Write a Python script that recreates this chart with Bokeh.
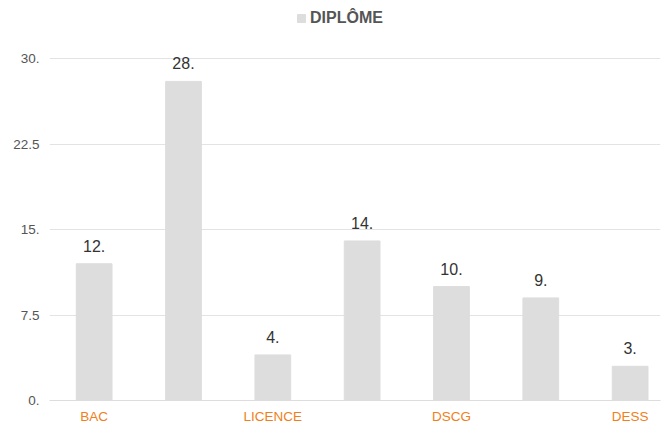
from bokeh.plotting import figure
from bokeh.models import ColumnDataSource, FixedTicker, Legend, LegendItem, Range1d, LabelSet
from bokeh.core.properties import value
from bokeh.embed import file_html
from bokeh.resources import INLINE

# data
categories = ["BAC", "", "LICENCE", "", "DSCG", "", "DESS"]
values = [12, 28, 4, 14, 10, 9, 3]
value_labels = ["12.", "28.", "4.", "14.", "10.", "9.", "3."]
y_ticks = [0, 7.5, 15, 22.5, 30]
y_tick_labels = ["0.", "7.5", "15.", "22.5", "30."]
series_name = "DIPLÔME"

xs = list(range(1, len(categories) + 1))
src = ColumnDataSource(dict(x=xs, top=values, lab=value_labels))

p = figure(width=661, height=426, output_backend="svg", toolbar_location=None,
           x_range=Range1d(0.5, 7.34), y_range=Range1d(0, 35.1),
           min_border_left=49, min_border_right=1, min_border_top=0, min_border_bottom=26)
p.outline_line_color = None
p.background_fill_color = "white"
p.border_fill_color = "white"

r = p.vbar(x="x", top="top", width=0.40, source=src, color="#dddddd")

labels = LabelSet(x="x", y="top", text="lab", source=src, text_align="center",
                  text_baseline="alphabetic", y_offset=12, text_font_size="16px",
                  text_color="#333333", text_font=value("Liberation Sans"))
p.add_layout(labels)

# y axis
p.yaxis.ticker = FixedTicker(ticks=y_ticks)
p.yaxis.major_label_overrides = {t: l for t, l in zip(y_ticks, y_tick_labels)}
p.yaxis.axis_line_color = None
p.yaxis.major_tick_line_color = None
p.yaxis.minor_tick_line_color = None
p.yaxis.major_tick_out = 0
p.yaxis.major_tick_in = 0
p.yaxis.major_label_text_color = "#555555"
p.yaxis.major_label_text_font_size = "13.5px"
p.yaxis.major_label_text_font = "Liberation Sans"
p.yaxis.major_label_standoff = 10
p.ygrid.ticker = FixedTicker(ticks=y_ticks)
p.ygrid.grid_line_color = "#e3e3e3"
p.ygrid.grid_line_width = 1

# x axis
p.xaxis.ticker = FixedTicker(ticks=[x for x, c in zip(xs, categories) if c])
p.xaxis.major_label_overrides = {x: c for x, c in zip(xs, categories) if c}
p.xaxis.axis_line_color = "#dddddd"
p.xaxis.major_tick_line_color = None
p.xaxis.minor_tick_line_color = None
p.xaxis.major_tick_out = 0
p.xaxis.major_tick_in = 0
p.xaxis.major_label_text_color = "#f07f1a"
p.xaxis.major_label_text_font_size = "13.5px"
p.xaxis.major_label_text_font = "Liberation Sans"
p.xaxis.major_label_standoff = 8
p.xgrid.grid_line_color = None

legend = Legend(items=[LegendItem(label=series_name, renderers=[r])],
                orientation="horizontal", location=(247, 373),
                label_text_font_style="bold", label_text_font_size="16px",
                label_text_color="#555555", label_text_font="Liberation Sans",
                glyph_width=10, glyph_height=10, border_line_color=None,
                background_fill_alpha=0,
                padding=2, margin=0, label_standoff=4)
p.add_layout(legend)

open("out.html", "w").write(file_html(p, INLINE))
